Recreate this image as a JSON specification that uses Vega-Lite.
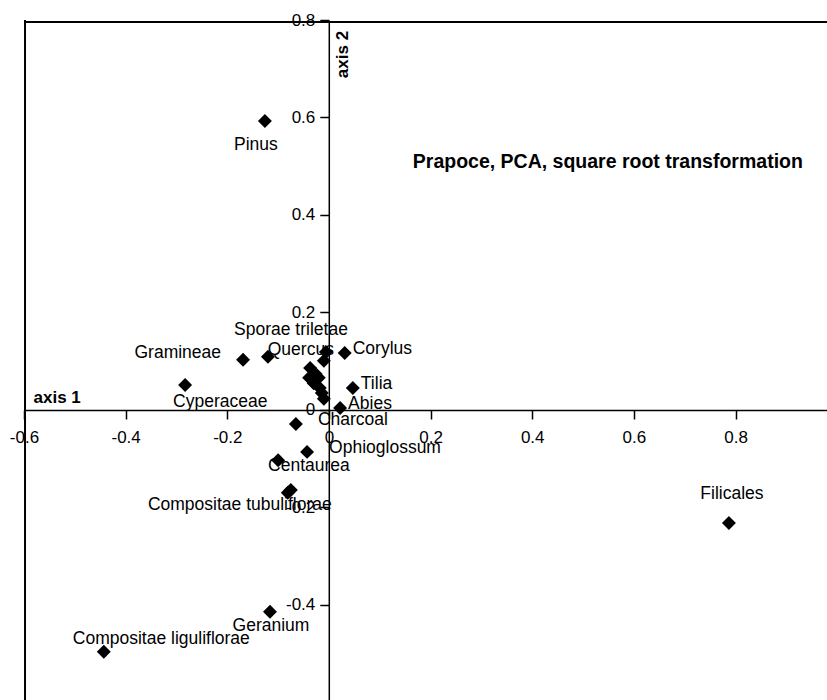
{
  "$schema": "https://vega.github.io/schema/vega-lite/v6.json",
  "width": 803,
  "height": 680,
  "autosize": {"type": "none"},
  "padding": {"left": 24, "top": 20, "right": 0, "bottom": 0},
  "background": "white",
  "config": {
    "view": {"stroke": null},
    "font": "Liberation Sans",
    "axis": {
      "domainColor": "black",
      "domainWidth": 1.5,
      "tickColor": "black",
      "tickWidth": 1.5,
      "tickSize": 9,
      "labelColor": "black",
      "labelFont": "Liberation Sans",
      "labelFontSize": 17,
      "labelFlush": false,
      "labelOverlap": false,
      "labelBound": false,
      "grid": false,
      "titleColor": "black",
      "titleFont": "Liberation Sans",
      "titleFontSize": 17,
      "titleFontWeight": "bold"
    }
  },
  "data": {
    "values": [
      {"label": "Pinus", "x": -0.126, "y": 0.593, "pos": "S2"},
      {"label": "Gramineae", "x": -0.169, "y": 0.103, "pos": "W"},
      {"label": "Sporae triletae", "x": -0.120, "y": 0.109, "pos": "N2"},
      {"label": "Quercus", "x": -0.006, "y": 0.119, "pos": "W2"},
      {"label": "Corylus", "x": 0.031, "y": 0.117, "pos": "E"},
      {"label": "Cyperaceae", "x": -0.283, "y": 0.051, "pos": "SW"},
      {"label": "Tilia", "x": 0.047, "y": 0.045, "pos": "E"},
      {"label": "Abies", "x": 0.022, "y": 0.004, "pos": "E"},
      {"label": "Charcoal", "x": -0.065, "y": -0.029, "pos": "E2"},
      {"label": "Ophioglossum", "x": -0.043, "y": -0.086, "pos": "E2"},
      {"label": "Centaurea", "x": -0.100, "y": -0.103, "pos": "SW2"},
      {"label": "Compositae tubuliflorae", "x": -0.081, "y": -0.170, "pos": "SR"},
      {"label": "Filicales", "x": 0.787, "y": -0.232, "pos": "N"},
      {"label": "Geranium", "x": -0.116, "y": -0.414, "pos": "S"},
      {"label": "Compositae liguliflorae", "x": -0.443, "y": -0.496, "pos": "NW"},
      {"label": "", "x": -0.010, "y": 0.101, "pos": "none"},
      {"label": "", "x": -0.037, "y": 0.086, "pos": "none"},
      {"label": "", "x": -0.026, "y": 0.074, "pos": "none"},
      {"label": "", "x": -0.039, "y": 0.066, "pos": "none"},
      {"label": "", "x": -0.020, "y": 0.066, "pos": "none"},
      {"label": "", "x": -0.030, "y": 0.055, "pos": "none"},
      {"label": "", "x": -0.018, "y": 0.045, "pos": "none"},
      {"label": "", "x": -0.014, "y": 0.035, "pos": "none"},
      {"label": "", "x": -0.010, "y": 0.023, "pos": "none"},
      {"label": "", "x": -0.075, "y": -0.164, "pos": "none"}
    ]
  },
  "layer": [
    {
      "encoding": {
        "x": {
          "field": "x",
          "type": "quantitative",
          "scale": {"domain": [-0.6, 0.98], "nice": false, "zero": false},
          "axis": {
            "orient": "bottom",
            "offset": -290,
            "values": [-0.6, -0.4, -0.2, 0, 0.2, 0.4, 0.6, 0.8],
            "labelExpr": "'' + datum.value",
            "labelPadding": 10,
            "title": "axis 1",
            "titleX": 9,
            "titleY": -8,
            "titleAlign": "left",
            "titleBaseline": "alphabetic",
            "titleAngle": 0
          }
        },
        "y": {
          "field": "y",
          "type": "quantitative",
          "scale": {"domain": [-0.595, 0.8], "nice": false, "zero": false},
          "axis": {
            "orient": "left",
            "offset": -304.8,
            "values": [-0.6, -0.4, -0.2, 0, 0.2, 0.4, 0.6, 0.8],
            "labelExpr": "'' + datum.value",
            "labelPadding": 5,
            "title": "axis 2",
            "titleAngle": 270,
            "titleX": 19,
            "titleY": 34,
            "titleAlign": "center",
            "titleBaseline": "alphabetic"
          }
        }
      },
      "layer": [
        {"mark": {"type": "point", "shape": "diamond", "filled": true, "color": "black", "size": 195, "opacity": 1, "strokeWidth": 0}},
        {"transform": [{"filter": "datum.pos === 'E'"}], "mark": {"type": "text", "align": "left", "baseline": "middle", "dx": 8, "dy": -4, "fontSize": 17.5, "color": "black"}, "encoding": {"text": {"field": "label"}}},
        {"transform": [{"filter": "datum.pos === 'E2'"}], "mark": {"type": "text", "align": "left", "baseline": "middle", "dx": 22, "dy": -4, "fontSize": 17.5, "color": "black"}, "encoding": {"text": {"field": "label"}}},
        {"transform": [{"filter": "datum.pos === 'S'"}], "mark": {"type": "text", "align": "center", "baseline": "middle", "dx": 1, "dy": 14, "fontSize": 17.5, "color": "black"}, "encoding": {"text": {"field": "label"}}},
        {"transform": [{"filter": "datum.pos === 'S2'"}], "mark": {"type": "text", "align": "center", "baseline": "middle", "dx": -9, "dy": 24, "fontSize": 17.5, "color": "black"}, "encoding": {"text": {"field": "label"}}},
        {"transform": [{"filter": "datum.pos === 'N'"}], "mark": {"type": "text", "align": "center", "baseline": "middle", "dx": 3, "dy": -29, "fontSize": 17.5, "color": "black"}, "encoding": {"text": {"field": "label"}}},
        {"transform": [{"filter": "datum.pos === 'N2'"}], "mark": {"type": "text", "align": "center", "baseline": "middle", "dx": 23, "dy": -27, "fontSize": 17.5, "color": "black"}, "encoding": {"text": {"field": "label"}}},
        {"transform": [{"filter": "datum.pos === 'W'"}], "mark": {"type": "text", "align": "right", "baseline": "middle", "dx": -22, "dy": -7, "fontSize": 17.5, "color": "black"}, "encoding": {"text": {"field": "label"}}},
        {"transform": [{"filter": "datum.pos === 'W2'"}], "mark": {"type": "text", "align": "right", "baseline": "middle", "dx": 8, "dy": -2, "fontSize": 17.5, "color": "black"}, "encoding": {"text": {"field": "label"}}},
        {"transform": [{"filter": "datum.pos === 'SW'"}], "mark": {"type": "text", "align": "left", "baseline": "middle", "dx": -12, "dy": 17, "fontSize": 17.5, "color": "black"}, "encoding": {"text": {"field": "label"}}},
        {"transform": [{"filter": "datum.pos === 'SW2'"}], "mark": {"type": "text", "align": "left", "baseline": "middle", "dx": -10, "dy": 6, "fontSize": 17.5, "color": "black"}, "encoding": {"text": {"field": "label"}}},
        {"transform": [{"filter": "datum.pos === 'NW'"}], "mark": {"type": "text", "align": "left", "baseline": "middle", "dx": -31, "dy": -13, "fontSize": 17.5, "color": "black"}, "encoding": {"text": {"field": "label"}}},
        {"transform": [{"filter": "datum.pos === 'SR'"}], "mark": {"type": "text", "align": "right", "baseline": "middle", "dx": 44, "dy": 12, "fontSize": 17.5, "color": "black"}, "encoding": {"text": {"field": "label"}}}
      ]
    },
    {
      "data": {"values": [{"frame": "top"}]},
      "mark": {"type": "rule", "color": "black", "strokeWidth": 2},
      "encoding": {"y": {"datum": 0.796, "type": "quantitative"}}
    },
    {
      "data": {"values": [{"frame": "left"}]},
      "mark": {"type": "rule", "color": "black", "strokeWidth": 2},
      "encoding": {"x": {"datum": -0.598, "type": "quantitative"}}
    },
    {
      "data": {"values": [{"title": "Prapoce, PCA, square root transformation"}]},
      "mark": {"type": "text", "align": "left", "baseline": "alphabetic", "fontSize": 19.5, "fontWeight": "bold", "color": "black"},
      "encoding": {
        "x": {"datum": 0.165, "type": "quantitative"},
        "y": {"datum": 0.496, "type": "quantitative"},
        "text": {"field": "title"}
      }
    }
  ]
}
